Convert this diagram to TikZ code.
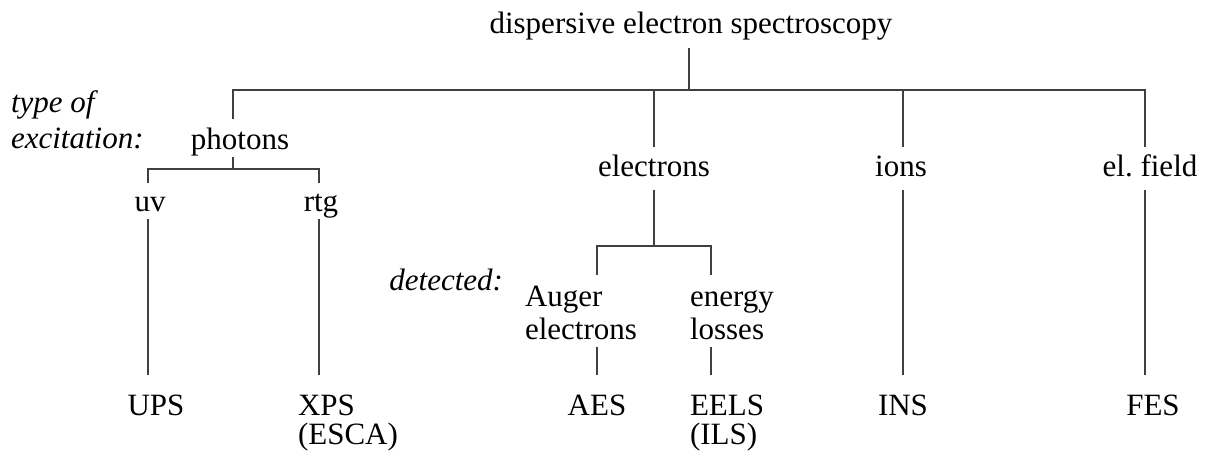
\documentclass[tikz,border=0pt]{standalone}
\usepackage{fontspec}
\setmainfont{Liberation Serif}
\begin{document}
\begin{tikzpicture}[x=1pt,y=-1pt,
  lbl/.style={inner sep=0pt,outer sep=0pt,font=\fontsize{31}{31}\selectfont},
  ital/.style={lbl,font=\fontsize{31}{31}\selectfont\itshape},
  ln/.style={line width=1.1pt,draw=black!75}]
\useasboundingbox (0,0) rectangle (1208,454);
% texts (multi-line nodes: base = baseline of last line)
\node[lbl,anchor=base] (title) at (691,34) {dispersive electron spectroscopy};
\node[ital,anchor=base west,align=left] (typeof) at (11,149) {type of\\[5pt]excitation:};
\node[lbl,anchor=base] (photons) at (240,150) {photons};
\node[lbl,anchor=base] (electrons) at (654,177) {electrons};
\node[lbl,anchor=base] (ions) at (901,177) {ions};
\node[lbl,anchor=base] (field) at (1150,177) {el.\ field};
\node[lbl,anchor=base] (uv) at (150,212) {uv};
\node[lbl,anchor=base] (rtg) at (321,212) {rtg};
\node[ital,anchor=base east] (detected) at (503,291) {detected:};
\node[lbl,anchor=base west,align=left] (auger) at (525,340) {Auger\\[2pt]electrons};
\node[lbl,anchor=base west,align=left] (energy) at (690,340) {energy\\[2pt]losses};
\node[lbl,anchor=base] (ups) at (156,415) {UPS};
\node[lbl,anchor=base west,align=left] (xps) at (298,444) {XPS\\[-2pt](ESCA)};
\node[lbl,anchor=base] (aes) at (597,415) {AES};
\node[lbl,anchor=base west,align=left] (eels) at (690,444) {EELS\\[-2pt](ILS)};
\node[lbl,anchor=base] (ins) at (903,415) {INS};
\node[lbl,anchor=base] (fes) at (1153,415) {FES};
% connector end points
\coordinate (tS) at (689,48);
\coordinate (bus) at (689,90);
\coordinate (phN) at (233,119);
\coordinate (phS) at (233,157);
\coordinate (sub1) at (233,169);
\coordinate (elN) at (654,147);
\coordinate (elS) at (654,190);
\coordinate (sub2) at (654,246);
\coordinate (ioN) at (903,147);
\coordinate (ioS) at (903,190);
\coordinate (efN) at (1145,147);
\coordinate (efS) at (1145,190);
\coordinate (uvN) at (148,183);
\coordinate (uvS) at (148,219);
\coordinate (rtN) at (319,183);
\coordinate (rtS) at (319,219);
\coordinate (agN) at (597,275);
\coordinate (agS) at (597,347);
\coordinate (enN) at (711,275);
\coordinate (enS) at (711,347);
\coordinate (upsN) at (148,375);
\coordinate (xpsN) at (319,375);
\coordinate (aesN) at (597,375);
\coordinate (eelsN) at (711,375);
\coordinate (insN) at (903,375);
\coordinate (fesN) at (1145,375);
% connectors
\draw[ln] (tS) -- (bus);
\draw[ln] (phN) -- (phN |- bus) -- (efN |- bus) -- (efN);
\draw[ln] (elN) -- (elN |- bus);
\draw[ln] (ioN) -- (ioN |- bus);
\draw[ln] (phS) -- (sub1);
\draw[ln] (uvN) -- (uvN |- sub1) -- (rtN |- sub1) -- (rtN);
\draw[ln] (uvS) -- (upsN);
\draw[ln] (rtS) -- (xpsN);
\draw[ln] (elS) -- (sub2);
\draw[ln] (agN) -- (agN |- sub2) -- (enN |- sub2) -- (enN);
\draw[ln] (agS) -- (aesN);
\draw[ln] (enS) -- (eelsN);
\draw[ln] (ioS) -- (insN);
\draw[ln] (efS) -- (fesN);
\end{tikzpicture}
\end{document}
